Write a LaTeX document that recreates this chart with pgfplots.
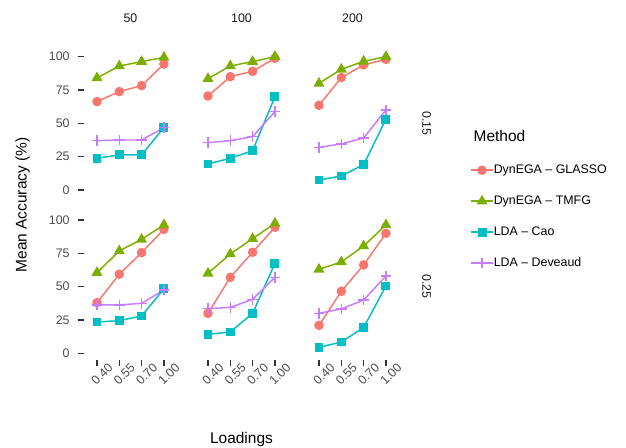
\documentclass[border=0pt]{standalone}
\usepackage{pgfplots}
\pgfplotsset{compat=1.18}
\usepackage{pgfplotstable}
\usepackage{fontspec}
\setmainfont{Liberation Sans}
\definecolor{cGL}{HTML}{F8766D}
\definecolor{cTM}{HTML}{7CAE00}
\definecolor{cCA}{HTML}{00BFC4}
\definecolor{cDV}{HTML}{C77CFF}
\definecolor{tickgrey}{HTML}{4D4D4D}
\definecolor{tickmark}{HTML}{333333}
\definecolor{stripgrey}{HTML}{1A1A1A}

% columns: x, DynEGA-GLASSO, DynEGA-TMFG, LDA-Cao, LDA-Deveaud
\pgfplotstableread{
x gl tm cao dev
1 66.3 84.0 23.8 37.0
2 73.8 93.0 26.3 37.5
3 78.3 96.3 26.3 37.5
4 94.5 99.5 46.8 46.8
}\tAa
\pgfplotstableread{
x gl tm cao dev
1 70.5 83.5 19.5 35.5
2 85.0 93.0 23.8 37.0
3 89.0 96.3 29.5 40.0
4 98.8 100.0 70.0 58.8
}\tAb
\pgfplotstableread{
x gl tm cao dev
1 63.5 80.0 7.5 32.0
2 84.3 90.5 10.5 34.5
3 93.8 96.5 19.0 39.0
4 98.0 100.0 53.0 60.0
}\tAc
\pgfplotstableread{
x gl tm cao dev
1 38.0 60.5 23.5 36.3
2 59.3 76.8 24.5 36.3
3 75.5 85.5 28.0 37.5
4 93.0 96.3 48.3 47.5
}\tBa
\pgfplotstableread{
x gl tm cao dev
1 30.0 60.0 14.3 33.5
2 57.0 74.5 16.0 34.5
3 75.8 86.0 30.0 40.5
4 94.5 97.5 67.5 57.0
}\tBb
\pgfplotstableread{
x gl tm cao dev
1 21.0 63.0 4.5 30.0
2 46.5 68.5 8.5 33.3
3 66.3 80.5 19.3 40.0
4 90.0 96.3 50.5 58.0
}\tBc

\pgfplotsset{
  panel/.style={scale only axis, width=70.3pt, height=110pt,
    xmin=0.4, xmax=4.6, ymin=-5, ymax=105,
    axis lines*=left, axis line style={draw=none},
    tick align=outside, major tick length=4.5pt,
    tick style={color=tickmark, line width=0.9pt},
    clip=false, xtick=\empty, ytick=\empty, anchor=north west,
    ticklabel style={font=\fontsize{9.3}{11}\selectfont, text=tickgrey}},
  firstcol/.style={ytick={0,25,50,75,100}, yticklabels={0,25,50,75,100},
    yticklabel style={xshift=-2.5pt}},
  bottomrow/.style={xtick={1,2,3,4}, xticklabels={0.40,0.55,0.70,1.00},
    xticklabel style={anchor=center, xshift=3.75pt, yshift=-6pt, rotate=45}},
  sGL/.style={color=cGL, line width=1.1pt, mark=*, mark size=3pt, mark options={solid}},
  sTM/.style={color=cTM, line width=1.1pt, mark=triangle*, mark size=3.7pt, mark options={solid}},
  sCA/.style={color=cCA, line width=1.1pt, mark=square*, mark size=2.8pt, mark options={solid}},
  sDV/.style={color=cDV, line width=1.1pt, mark=+, mark size=3.9pt, mark options={solid}},
}

\newcommand{\panelplots}[1]{%
  \addplot[sGL] table[x=x,y=gl]{#1};
  \addplot[sTM] table[x=x,y=tm]{#1};
  \addplot[sCA] table[x=x,y=cao]{#1};
  \addplot[sDV] table[x=x,y=dev]{#1};
}

\begin{document}
\begin{tikzpicture}
\path[use as bounding box] (0,0) rectangle (469.5pt,336pt);

% top row (0.15)
\begin{axis}[panel, firstcol, at={(62.7pt,298.5pt)}]
\panelplots{\tAa}
\end{axis}
\begin{axis}[panel, at={(145.95pt,298.5pt)}]
\panelplots{\tAb}
\end{axis}
\begin{axis}[panel, at={(229.2pt,298.5pt)},
  legend style={at={(1.7545,0.2877)}, anchor=north west, draw=none, fill=none,
    inner sep=0pt, font=\fontsize{9.3}{11}\selectfont,
    nodes={inner sep=0pt, minimum height=23.25pt, text=black},
    row sep=0pt, /tikz/every even column/.append style={column sep=7.5pt}},
  legend cell align=left,
  legend image code/.code={\draw[mark repeat=2, mark phase=2, #1] plot coordinates {(0pt,0pt) (8.25pt,0pt) (16.5pt,0pt)};}]
\panelplots{\tAc}
\legend{DynEGA – GLASSO, DynEGA – TMFG, LDA – Cao, LDA – Deveaud}
\end{axis}

% bottom row (0.25)
\begin{axis}[panel, firstcol, bottomrow, at={(62.7pt,176pt)}]
\panelplots{\tBa}
\end{axis}
\begin{axis}[panel, bottomrow, at={(145.95pt,176pt)}]
\panelplots{\tBb}
\end{axis}
\begin{axis}[panel, bottomrow, at={(229.2pt,176pt)}]
\panelplots{\tBc}
\end{axis}

% strip labels
\begin{scope}[every node/.style={font=\fontsize{9.3}{11}\selectfont, text=stripgrey}]
\node at (97.85pt,322.3pt) {50};
\node at (181.1pt,322.3pt) {100};
\node at (264.35pt,322.3pt) {200};
\node[rotate=-90] at (320pt,243.5pt) {0.15};
\node[rotate=-90] at (320pt,121pt) {0.25};
\end{scope}

% axis titles
\node[rotate=90, font=\fontsize{11.6}{13}\selectfont] at (17pt,182.25pt) {Mean Accuracy (\%)};
\node[anchor=base, font=\fontsize{11.6}{13}\selectfont] at (181.1pt,3.6pt) {Loadings};
\node[anchor=base west, font=\fontsize{11.6}{13}\selectfont] at (351.75pt,229.7pt) {Method};
\end{tikzpicture}
\end{document}
